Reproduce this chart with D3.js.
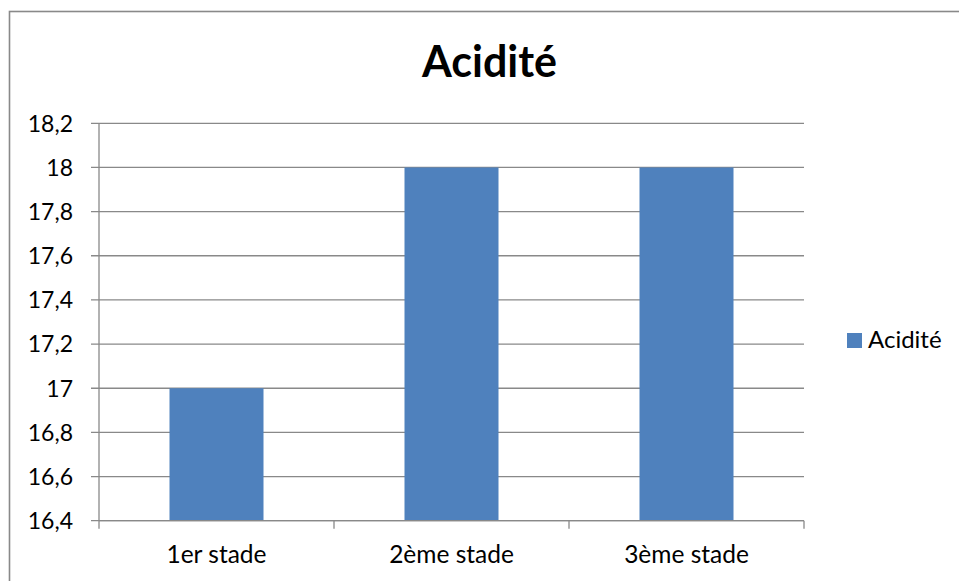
<!DOCTYPE html>
<html>
<head>
<meta charset="utf-8">
<script src="https://cdn.jsdelivr.net/npm/d3@7"></script>
<style>
  html, body { margin: 0; padding: 0; background: #fff; }
  svg { display: block; font-family: Lato, "Open Sans", sans-serif; }
</style>
</head>
<body>
<svg id="chart" width="959" height="581"></svg>
<script>
// Acidity measured at each stage
const categories = ["1er stade", "2ème stade", "3ème stade"];
const acidite = [17, 18, 18];
const yTicks = [16.4, 16.6, 16.8, 17, 17.2, 17.4, 17.6, 17.8, 18, 18.2];
const seriesName = "Acidité";
const chartTitle = "Acidité";

const svg = d3.select("#chart");
const plot = { left: 99, right: 804, top: 123.3, bottom: 520.7 };
const gridColor = "#898989";
const barColor = "#4F81BD";

// outer chart frame
svg.append("rect")
  .attr("x", 9.5).attr("y", 11.5)
  .attr("width", 980).attr("height", 600)
  .attr("fill", "#fff")
  .attr("stroke", gridColor).attr("stroke-width", 1.6);

const x = d3.scaleBand()
  .domain(categories)
  .range([plot.left, plot.right])
  .paddingInner(0.6).paddingOuter(0.3);

const y = d3.scaleLinear()
  .domain([16.4, 18.2])
  .range([plot.bottom, plot.top]);

const fmt = v => d3.format("")(+v.toFixed(1)).replace(".", ",");

// horizontal gridlines
svg.append("g")
  .selectAll("line")
  .data(yTicks)
  .join("line")
  .attr("x1", plot.left - 8).attr("x2", plot.right)
  .attr("y1", d => y(d)).attr("y2", d => y(d))
  .attr("stroke", gridColor).attr("stroke-width", 1.3);

// y-axis labels
svg.append("g")
  .selectAll("text")
  .data(yTicks)
  .join("text")
  .attr("x", 73).attr("y", d => y(d))
  .attr("dy", "0.36em")
  .attr("text-anchor", "end")
  .attr("font-size", 23)
  .attr("fill", "#000")
  .text(d => fmt(d));

// bars
svg.append("g")
  .selectAll("rect")
  .data(categories.map((c, i) => ({ c, v: acidite[i] })))
  .join("rect")
  .attr("x", d => x(d.c))
  .attr("width", x.bandwidth())
  .attr("y", d => y(d.v))
  .attr("height", d => y(16.4) - y(d.v))
  .attr("fill", barColor);

// y axis line
svg.append("line")
  .attr("x1", plot.left).attr("x2", plot.left)
  .attr("y1", plot.top).attr("y2", plot.bottom)
  .attr("stroke", gridColor).attr("stroke-width", 1.3);

// x axis line with category separators
const step = (plot.right - plot.left) / categories.length;
svg.append("line")
  .attr("x1", plot.left).attr("x2", plot.right)
  .attr("y1", plot.bottom).attr("y2", plot.bottom)
  .attr("stroke", gridColor).attr("stroke-width", 1.3);
svg.append("g")
  .selectAll("line")
  .data(d3.range(categories.length + 1))
  .join("line")
  .attr("x1", i => plot.left + i * step).attr("x2", i => plot.left + i * step)
  .attr("y1", plot.bottom).attr("y2", plot.bottom + 8)
  .attr("stroke", gridColor).attr("stroke-width", 1.3);

// category labels
svg.append("g")
  .selectAll("text")
  .data(categories)
  .join("text")
  .attr("x", d => x(d) + x.bandwidth() / 2)
  .attr("y", 563)
  .attr("text-anchor", "middle")
  .attr("font-size", 24.5)
  .attr("fill", "#000")
  .text(d => d);

// title
svg.append("text")
  .attr("x", 489.5).attr("y", 77)
  .attr("text-anchor", "middle")
  .attr("font-size", 43)
  .attr("font-weight", "bold")
  .attr("fill", "#000")
  .text(chartTitle);

// legend
const legend = svg.append("g");
legend.append("rect")
  .attr("x", 847).attr("y", 333)
  .attr("width", 15).attr("height", 15)
  .attr("fill", barColor);
legend.append("text")
  .attr("x", 868).attr("y", 348)
  .attr("font-size", 24)
  .attr("fill", "#000")
  .text(seriesName);
</script>
</body>
</html>
